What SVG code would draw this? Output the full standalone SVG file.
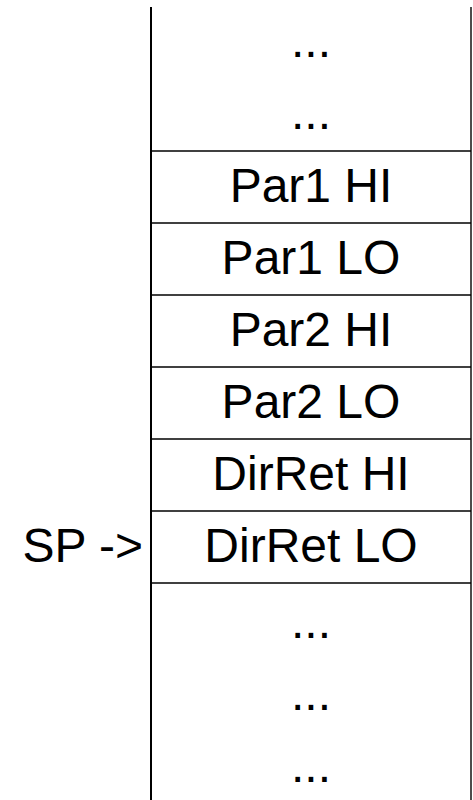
<svg xmlns="http://www.w3.org/2000/svg" width="473" height="800" viewBox="0 0 473 800">
  <style>
    .cell { font-family: "Liberation Sans", Arial, sans-serif; font-size: 48px; fill: #000; text-anchor: middle; }
    .sep { stroke: #000; stroke-width: 1.4; fill: none; }
    .side { stroke: #000; stroke-width: 2; }
    .label { font-family: "Liberation Sans", Arial, sans-serif; font-size: 48px; fill: #000; text-anchor: end; }
  </style>
  <rect width="473" height="800" fill="#fff"/>

  <!-- stack frame borders and row separators -->
  <g id="connectors">
    <line class="side" x1="151" y1="7" x2="151" y2="800"/>
    <line class="sep" x1="471" y1="7" x2="471" y2="800"/>
    <line class="sep" x1="151" y1="151" x2="471" y2="151"/>
    <line class="sep" x1="151" y1="223" x2="471" y2="223"/>
    <line class="sep" x1="151" y1="295" x2="471" y2="295"/>
    <line class="sep" x1="151" y1="367" x2="471" y2="367"/>
    <line class="sep" x1="151" y1="439" x2="471" y2="439"/>
    <line class="sep" x1="151" y1="511" x2="471" y2="511"/>
    <line class="sep" x1="151" y1="583" x2="471" y2="583"/>
  </g>

  <g id="row-top1"><text class="cell" x="311" y="57">...</text></g>
  <g id="row-top2"><text class="cell" x="311" y="129">...</text></g>
  <g id="row-par1hi"><text class="cell" x="311" y="202">Par1 HI</text></g>
  <g id="row-par1lo"><text class="cell" x="311" y="274">Par1 LO</text></g>
  <g id="row-par2hi"><text class="cell" x="311" y="346">Par2 HI</text></g>
  <g id="row-par2lo"><text class="cell" x="311" y="418">Par2 LO</text></g>
  <g id="row-dirrethi"><text class="cell" x="311" y="490">DirRet HI</text></g>
  <g id="row-dirretlo"><text class="cell" x="311" y="562">DirRet LO</text></g>
  <g id="row-bot1"><text class="cell" x="311" y="638">...</text></g>
  <g id="row-bot2"><text class="cell" x="311" y="710">...</text></g>
  <g id="row-bot3"><text class="cell" x="311" y="782">...</text></g>

  <g id="sp-pointer"><text class="label" x="143" y="562">SP -&gt;</text></g>
</svg>
